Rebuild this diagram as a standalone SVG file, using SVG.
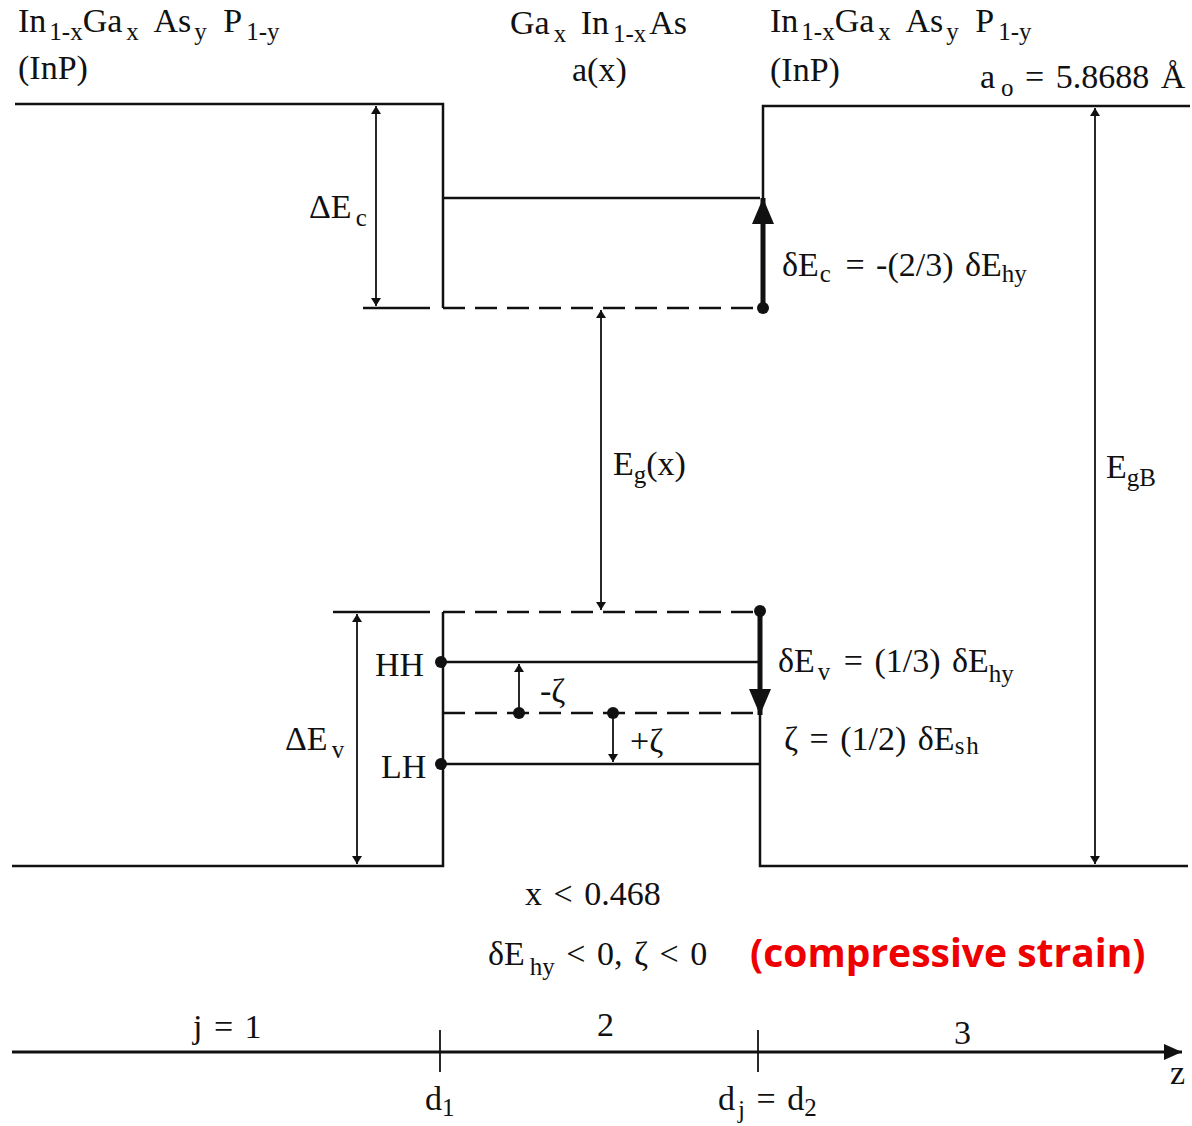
<svg xmlns="http://www.w3.org/2000/svg" width="1192" height="1126" viewBox="0 0 1192 1126">
<style>
text{font-family:"Liberation Serif","Times New Roman",serif;font-size:34px;fill:#111;word-spacing:3px}
.s{font-size:25px}
.ln{stroke:#111;stroke-width:2.5;fill:none}
.th{stroke:#111;stroke-width:1.8;fill:none}
.dash{stroke:#111;stroke-width:2.5;fill:none;stroke-dasharray:22 10}
.bold{stroke:#111;stroke-width:5;fill:none}
.red{font-family:"Open Sans","Liberation Sans",sans-serif;font-weight:bold;font-size:39px;fill:#ee0000;word-spacing:0}
</style>
<defs>
<marker id="ah" viewBox="0 0 10 10" refX="10" refY="5" markerWidth="8" markerHeight="10" markerUnits="userSpaceOnUse" orient="auto-start-reverse" preserveAspectRatio="none"><path d="M0,0 L10,5 L0,10 z" fill="#111"/></marker>
<marker id="ahb" viewBox="0 0 10 10" refX="10" refY="5" markerWidth="26" markerHeight="22" markerUnits="userSpaceOnUse" orient="auto" preserveAspectRatio="none"><path d="M0,0 L10,5 L0,10 z" fill="#111"/></marker>
<marker id="ahz" viewBox="0 0 10 10" refX="10" refY="5" markerWidth="18" markerHeight="16" markerUnits="userSpaceOnUse" orient="auto" preserveAspectRatio="none"><path d="M0,0 L10,5 L0,10 z" fill="#111"/></marker>
</defs>
<g id="band-lines">
<path class="ln" d="M15,104 H443 V308"/>
<path class="ln" d="M443,198 H760"/>
<path class="dash" d="M443,308 H760"/>
<path class="ln" d="M363,308 H430"/>
<path class="ln" d="M763,198 V106 H1190"/>
<path class="ln" d="M333,612 H430"/>
<path class="dash" d="M443,612 H760"/>
<path class="ln" d="M443,612 V866 H12"/>
<path class="ln" d="M443,662 H760"/>
<path class="dash" d="M443,713 H760"/>
<path class="ln" d="M443,764 H760"/>
<path class="ln" d="M760,713 V866 H1188"/>
</g>
<g id="connectors">
<line class="th" x1="376" y1="106" x2="376" y2="306" marker-start="url(#ah)" marker-end="url(#ah)"/>
<line class="th" x1="601" y1="310" x2="601" y2="610" marker-start="url(#ah)" marker-end="url(#ah)"/>
<line class="th" x1="1095" y1="108" x2="1095" y2="864" marker-start="url(#ah)" marker-end="url(#ah)"/>
<line class="th" x1="357" y1="614" x2="357" y2="864" marker-start="url(#ah)" marker-end="url(#ah)"/>
<line class="bold" x1="763" y1="308" x2="763" y2="198" marker-end="url(#ahb)"/>
<circle cx="763" cy="308" r="6" fill="#111"/>
<line class="bold" x1="760" y1="612" x2="760" y2="715" marker-end="url(#ahb)"/>
<circle cx="760" cy="611" r="6" fill="#111"/>
<line class="th" x1="519" y1="713" x2="519" y2="664" marker-end="url(#ah)"/>
<circle cx="519" cy="713" r="6" fill="#111"/>
<line class="th" x1="613" y1="713" x2="613" y2="762" marker-end="url(#ah)"/>
<circle cx="613" cy="713" r="6" fill="#111"/>
<circle cx="441" cy="662" r="6" fill="#111"/>
<circle cx="441" cy="764" r="6" fill="#111"/>
<line x1="12" y1="1052" x2="1182" y2="1052" stroke="#111" stroke-width="3" marker-end="url(#ahz)"/>
<line class="th" x1="440" y1="1030" x2="440" y2="1072" stroke-width="2.5"/>
<line class="th" x1="758" y1="1030" x2="758" y2="1072" stroke-width="2.5"/>
</g>
<g id="labels">
<text x="18" y="32">In<tspan class="s" dx="3" dy="8">1-x</tspan><tspan dy="-8">Ga</tspan><tspan class="s" dx="4" dy="8">x</tspan><tspan dx="5" dy="-8"> As</tspan><tspan class="s" dx="3" dy="8">y</tspan><tspan dx="5" dy="-8"> P</tspan><tspan class="s" dx="4" dy="8">1-y</tspan></text>
<text x="18" y="79">(InP)</text>
<text x="510" y="34">Ga<tspan class="s" dx="4" dy="8">x</tspan><tspan dx="3" dy="-8"> In</tspan><tspan class="s" dx="4" dy="8">1-x</tspan><tspan dx="3" dy="-8">As</tspan></text>
<text x="572" y="81">a(x)</text>
<text x="770" y="32">In<tspan class="s" dx="3" dy="8">1-x</tspan><tspan dy="-8">Ga</tspan><tspan class="s" dx="4" dy="8">x</tspan><tspan dx="5" dy="-8"> As</tspan><tspan class="s" dx="3" dy="8">y</tspan><tspan dx="5" dy="-8"> P</tspan><tspan class="s" dx="4" dy="8">1-y</tspan></text>
<text x="770" y="81">(InP)</text>
<text x="980" y="88">a<tspan class="s" dx="6" dy="8">o</tspan><tspan dy="-8"> = 5.8688 Å</tspan></text>
<text x="309" y="218">ΔE<tspan class="s" dx="4" dy="8">c</tspan></text>
<text x="782" y="276">δE<tspan class="s" dx="1" dy="6">c</tspan><tspan dx="3" dy="-6"> = -(2/3) δE</tspan><tspan class="s" dy="6">hy</tspan></text>
<text x="613" y="475">E<tspan class="s" dy="8">g</tspan><tspan dy="-8">(x)</tspan></text>
<text x="1106" y="478">E<tspan class="s" dy="8">gB</tspan></text>
<text x="375" y="676">HH</text>
<text x="381" y="778">LH</text>
<text x="285" y="750">ΔE<tspan class="s" dx="4" dy="8">v</tspan></text>
<text x="540" y="702">-ζ</text>
<text x="630" y="752">+ζ</text>
<text x="778" y="672">δE<tspan class="s" dx="3" dy="8">v</tspan><tspan dx="2" dy="-8"> = (1/3) δE</tspan><tspan class="s" dy="10">hy</tspan></text>
<text x="784" y="750">ζ = (1/2) δE<tspan class="s" dy="4" letter-spacing="2">sh</tspan></text>
<text x="525" y="905">x &lt; 0.468</text>
<text x="488" y="965">δE<tspan class="s" dx="5" dy="10">hy</tspan><tspan dy="-10"> &lt; 0,  ζ &lt; 0</tspan></text>
<text class="red" x="750" y="967">(compressive strain)</text>
<text x="193" y="1038">j = 1</text>
<text x="597" y="1036">2</text>
<text x="954" y="1044">3</text>
<text x="1170" y="1084">z</text>
<text x="425" y="1110">d<tspan class="s" dy="6">1</tspan></text>
<text x="718" y="1110">d<tspan class="s" dx="3" dy="8">j</tspan><tspan dy="-8"> = d</tspan><tspan class="s" dy="6">2</tspan></text>
</g>
</svg>
